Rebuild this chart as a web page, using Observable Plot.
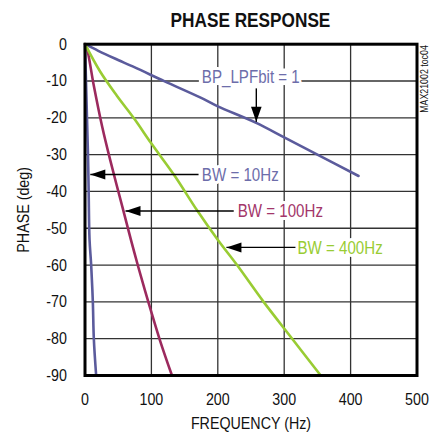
<!DOCTYPE html>
<html>
<head>
<meta charset="utf-8">
<script src="https://cdn.jsdelivr.net/npm/d3@7"></script>
<script src="https://cdn.jsdelivr.net/npm/@observablehq/plot@0.6"></script>
<style>
  body { margin: 0; background: white; }
  #title { width: 360px; padding-left: 70px; height: 34px; line-height: 40px; text-align: center;
    font-family: 'Liberation Sans', Arial, sans-serif; font-weight: bold; font-size: 21px; color: #111; }
  #title span { display: inline-block; transform: scaleX(0.82); }
</style>
</head>
<body>
<div id="title"><span>PHASE RESPONSE</span></div>
<div id="chart"></div>
<script>
// Series values
const freqBP  = [0, 20, 45, 75, 120, 175, 200, 257, 300, 350, 412];
const phaseBP = [0, -1.8, -3.9, -6.3, -10.1, -14.6, -16.9, -21.3, -25.3, -30, -35.8];

const freq10  = [0, 1.5, 3, 4.5, 5.5, 6.8, 9.3, 11.8, 13.3, 16.8];
const phase10 = [0, -10, -20, -30, -40, -53, -60, -70, -80, -90];

const freq100  = [0, 3, 13, 26, 38, 56, 69, 81, 97, 113, 131];
const phase100 = [0, -1.2, -11, -22.5, -31.5, -44, -53, -61, -71, -80.5, -90];

const freq400  = [0, 23, 48, 74, 100, 136, 169, 201, 229, 269, 312, 355];
const phase400 = [0, -7.5, -14, -20.2, -27, -36, -45.2, -53.4, -60, -70, -80, -90];

const xTicks = [0, 100, 200, 300, 400, 500];
const yTicks = [0, -10, -20, -30, -40, -50, -60, -70, -80, -90];

// Annotations (text, label start, arrow tip, arrow tail)
const annLabels = ["BP_LPFbit = 1", "BW = 10Hz", "BW = 100Hz", "BW = 400Hz"];
const annTextX  = [176, 176, 230, 320];
const annTextY  = [-8.9, -35.5, -45.3, -55.3];
const annTipX   = [258, 8, 61, 213];
const annTipY   = [-21.1, -35.4, -45.3, -55.2];
const annFromX  = [258, 171, 224, 317];
const annFromY  = [-12, -35.4, -45.3, -55.2];

const colBlue = "#5b5b9c", colBlueText = "#6d6daa";
const colMaroon = "#9c2a5e", colMaroonText = "#a3366a";
const colGreen = "#99cc33";

const mk = (name, fs, ps) => fs.map((f, i) => ({series: name, freq: f, phase: ps[i]}));
const rows = [
  ...mk("BP", freqBP, phaseBP),
  ...mk("10", freq10, phase10),
  ...mk("100", freq100, phase100),
  ...mk("400", freq400, phase400)
];
const lineColor = {"BP": colBlue, "10": colBlue, "100": colMaroon, "400": colGreen};
const textColors = [colBlueText, colBlueText, colMaroonText, colGreen];

const ann = annLabels.map((t, i) => ({
  text: t, tx: annTextX[i], ty: annTextY[i], x1: annFromX[i], y1: annFromY[i],
  x2: annTipX[i], y2: annTipY[i], color: textColors[i], down: i === 0
}));

const triLeft = {draw(ctx, size) { const r = Math.sqrt(size / Math.PI);
  ctx.moveTo(0, 0); ctx.lineTo(1.5 * r, -0.5 * r); ctx.lineTo(1.5 * r, 0.5 * r); ctx.closePath(); }};
const triDown = {draw(ctx, size) { const r = Math.sqrt(size / Math.PI);
  ctx.moveTo(0, 0); ctx.lineTo(-0.53 * r, -1.5 * r); ctx.lineTo(0.53 * r, -1.5 * r); ctx.closePath(); }};

const FONT = "'Liberation Sans', Arial, sans-serif";

const chart = Plot.plot({
  width: 430,
  height: 406,
  marginLeft: 84.5,
  marginRight: 13.5,
  marginTop: 9.7,
  marginBottom: 65,
  style: {fontFamily: FONT, fontSize: "17px", color: "#111", background: "white"},
  x: {domain: [0, 500], ticks: xTicks, tickSize: 0, tickPadding: 17, label: null, tickFormat: d => String(d)},
  y: {domain: [-90, 0], ticks: yTicks, tickSize: 0, tickPadding: 18, label: null, tickFormat: d => String(d)},
  marks: [
    Plot.ruleX(xTicks.slice(1, -1), {stroke: "#333", strokeWidth: 1.3}),
    Plot.ruleY(yTicks.slice(1, -1), {stroke: "#333", strokeWidth: 1.3}),
    Plot.line(rows, {x: "freq", y: "phase", z: "series", stroke: d => lineColor[d.series],
      strokeWidth: 2.6, curve: "catmull-rom"}),
    Plot.link(ann, {x1: "x1", y1: "y1", x2: "x2", y2: "y2", stroke: "black", strokeWidth: 1.4}),
    Plot.dot(ann.filter(d => !d.down), {x: "x2", y: "y2", symbol: triLeft, r: 10, fill: "black", stroke: null}),
    Plot.dot(ann.filter(d => d.down), {x: "x2", y: "y2", symbol: triDown, r: 10, fill: "black", stroke: null}),
    Plot.text(ann, {x: "tx", y: "ty", text: "text", fill: "color", textAnchor: "start",
      fontSize: 18, stroke: "white", strokeWidth: 6, fontFamily: FONT}),
    Plot.frame({stroke: "black", strokeWidth: 3}),
    Plot.text(["PHASE (deg)"], {text: d => d, frameAnchor: "left", rotate: -90, dx: -61.5,
      textAnchor: "middle", lineAnchor: "middle", fontSize: 17, fill: "#111", fontFamily: FONT}),
    Plot.text(["FREQUENCY (Hz)"], {text: d => d, frameAnchor: "bottom", dy: 48,
      textAnchor: "middle", lineAnchor: "middle", fontSize: 17, fill: "#111", fontFamily: FONT}),
    Plot.text(["MAX21002 toc04"], {text: d => d, frameAnchor: "top-right", rotate: -90,
      textAnchor: "end", lineAnchor: "middle", dx: 7.5, dy: 1, fontSize: 10.5, fill: "#111", fontFamily: FONT})
  ]
});
// condense all texts along their writing direction (narrow typeface look)
chart.querySelectorAll("text").forEach(t => {
  const tr = t.getAttribute("transform") || "";
  let x = parseFloat(t.getAttribute("x"));
  if (!isFinite(x)) x = 0;
  t.setAttribute("transform", `${tr} translate(${x},0) scale(0.84,1) translate(${-x},0)`.trim());
});
document.getElementById("chart").appendChild(chart);

// white label boxes that hide the grid behind the annotation texts
const svgBox = chart.getBoundingClientRect();
const lineGroup = chart.querySelector('g[aria-label="line"]');
chart.querySelectorAll("text").forEach(t => {
  if (!annLabels.includes(t.textContent)) return;
  const b = t.getBoundingClientRect();
  const r = document.createElementNS("http://www.w3.org/2000/svg", "rect");
  r.setAttribute("x", b.left - svgBox.left - 3);
  r.setAttribute("y", b.top - svgBox.top + 2);
  r.setAttribute("width", b.width + 4);
  r.setAttribute("height", b.height - 4);
  r.setAttribute("fill", "white");
  if (lineGroup) chart.insertBefore(r, lineGroup);
});
</script>
</body>
</html>
